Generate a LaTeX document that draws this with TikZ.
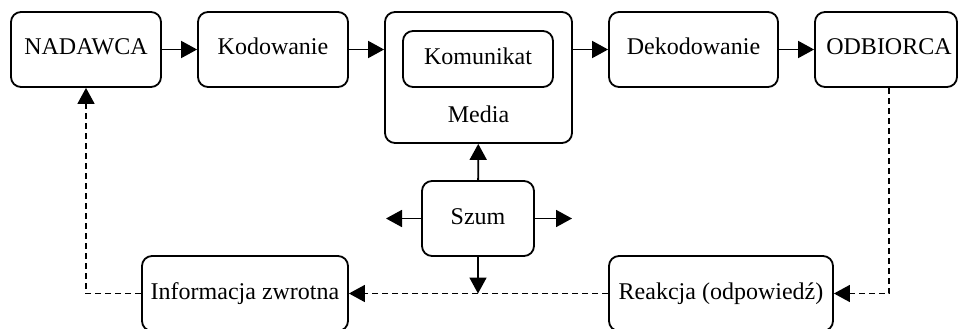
\documentclass[tikz,border=0pt]{standalone}
\usepackage{fontspec}
\setmainfont{Liberation Serif}
\usetikzlibrary{arrows.meta}
\begin{document}
\begin{tikzpicture}[x=1pt,y=-1pt,
  box/.style={draw=black, line width=1.8pt, rounded corners=10pt, rectangle,
    inner sep=0pt, minimum height=75pt, text height=16pt, text depth=5pt,
    font=\fontsize{24}{28}\selectfont},
  txt/.style={inner sep=0pt, text height=16pt, text depth=5pt,
    font=\fontsize{24}{28}\selectfont},
  flow/.style={line width=1.8pt, -{Triangle[length=16pt,width=17pt]}},
  back/.style={line width=1.5pt, dash pattern=on 6pt off 4pt,
    -{Triangle[length=16pt,width=17pt]}}]
\useasboundingbox (0,0) rectangle (958,329);
\clip (0,0) rectangle (958,329);

% top row
\node[box, minimum width=150pt] (nad) at (86,49.5) {NADAWCA};
\node[box, minimum width=150pt] (kod) at (273,49.5) {Kodowanie};
\node[box, minimum width=187pt, minimum height=131pt] (med) at (478.5,77.5) {};
\node[box, minimum width=150pt, minimum height=56pt] (kom) at (478,59) {Komunikat};
\node[txt] (medl) at (478.5,117) {Media};
\node[box, minimum width=169pt] (dek) at (693.5,49.5) {Dekodowanie};
\node[box, minimum width=142pt] (odb) at (886,49.5) {\hspace{6pt}ODBIORCA};

% noise source
\node[box, minimum width=112pt] (szum) at (478,218.5) {Szum};
\coordinate (szl) at (386,218.5);
\coordinate (szr) at (572,218.5);
\coordinate (szd) at (478,293.5);

% feedback row
\node[box, minimum width=206pt] (inf) at (245,293.5) {Informacja zwrotna};
\node[box, minimum width=224pt] (rea) at (721,293.5) {Reakcja (odpowiedź)};

% forward flow
\draw[flow] (nad) -- (kod);
\draw[flow] (kod) -- (kod -| med.west);
\draw[flow] (med.east |- dek) -- (dek);
\draw[flow] (dek) -- (odb);

% noise arrows
\draw[flow] (szum) -- (med);
\draw[flow] (szum) -- (szl);
\draw[flow] (szum) -- (szr);
\draw[flow] (szum) -- (szd);

% feedback loop
\draw[back] ([xshift=3pt]odb.south) |- (rea.east);
\draw[back] (rea) -- (inf);
\draw[back] (inf.west) -| (nad.south);
\end{tikzpicture}
\end{document}
